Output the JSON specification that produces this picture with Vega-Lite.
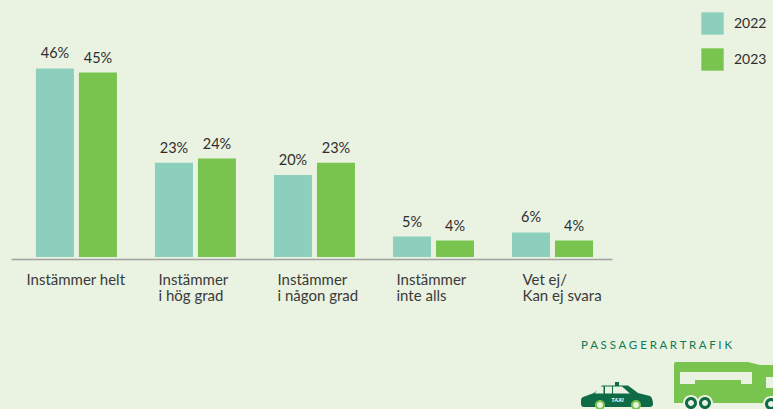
{"$schema":"https://vega.github.io/schema/vega-lite/v6.json","autosize":"none","padding":{"left":11,"top":52,"right":161,"bottom":152},"width":601,"height":205,"background":"#EAF2E1","config":{"view":{"stroke":null},"font":"Lato"},"layer":[{"data":{"values":[{"svar":"Instämmer helt","ar":"2022","andel":0.46},{"svar":"Instämmer helt","ar":"2023","andel":0.45},{"svar":"Instämmer|i hög grad","ar":"2022","andel":0.23},{"svar":"Instämmer|i hög grad","ar":"2023","andel":0.24},{"svar":"Instämmer|i någon grad","ar":"2022","andel":0.2},{"svar":"Instämmer|i någon grad","ar":"2023","andel":0.23},{"svar":"Instämmer|inte alls","ar":"2022","andel":0.05},{"svar":"Instämmer|inte alls","ar":"2023","andel":0.04},{"svar":"Vet ej/|Kan ej svara","ar":"2022","andel":0.06},{"svar":"Vet ej/|Kan ej svara","ar":"2023","andel":0.04}]},"encoding":{"x":{"field":"svar","type":"nominal","sort":null,"title":null,"scale":{"paddingInner":0,"paddingOuter":0.025,"align":1},"axis":{"offset":2,"ticks":false,"domainColor":"#A0A3A0","domainWidth":1.5,"labelAngle":0,"labelAlign":"left","labelBaseline":"top","labelFont":"Lato","labelFontSize":15,"labelColor":"#3A3A3A","labelPadding":13,"labelLineHeight":16,"labelOverlap":false,"labelOffset":{"expr":"datum.value=='Instämmer helt'?-50:datum.value=='Vet ej/|Kan ej svara'?-30:-37"},"labelExpr":"split(datum.label,'|')"}},"xOffset":{"field":"ar","type":"nominal","scale":{"paddingInner":0.116,"paddingOuter":0.442}},"y":{"field":"andel","type":"quantitative","scale":{"domain":[0,0.5]},"axis":null}},"layer":[{"mark":{"type":"bar"},"encoding":{"color":{"field":"ar","type":"nominal","scale":{"domain":["2022","2023"],"range":["#8CCFBD","#79C44F"]},"legend":{"orient":"none","legendX":690,"legendY":-40,"title":null,"symbolType":"square","symbolSize":500,"symbolStrokeWidth":0,"rowPadding":13,"labelFont":"Lato","labelFontSize":14,"labelColor":"#2E2E2E","labelOffset":10}}}},{"mark":{"type":"text","baseline":"bottom","dy":-7,"font":"Lato","fontSize":14.5,"color":"#2E2E2E"},"encoding":{"text":{"field":"andel","type":"quantitative","format":".0%"}}}]},{"data":{"values":[{"ikon":"buss"}]},"mark":{"type":"point","filled":true,"opacity":1,"size":4,"strokeWidth":0,"color":"#79C44F","shape":"M364.5,207.5 h72 l12,3 h13 v38 h-99 v-39 q0,-2 2,-2 z"},"encoding":{}},{"data":{"values":[{"ikon":"buss fönster"}]},"mark":{"type":"point","filled":true,"opacity":1,"size":4,"strokeWidth":0,"color":"#EAF2E1","shape":"M368.5,217.5 h72 v12 h-11 v-4 h-46 v4 h-15 z M454.5,222.5 h7 v11 h-7 z M371.5,248.5 a8,8 0 1 0 16,0 a8,8 0 1 0 -16,0 z M385.5,248.5 a8,8 0 1 0 16,0 a8,8 0 1 0 -16,0 z M451.5,249.5 a8,8 0 1 0 16,0 a8,8 0 1 0 -16,0 z"},"encoding":{}},{"data":{"values":[{"ikon":"taxi och hjul"}]},"mark":{"type":"point","filled":true,"opacity":1,"size":4,"strokeWidth":0,"color":"#0E6B45","shape":"M271.5,242.5 l11,-4 l8,-7.5 h13 v-3.5 h4 v3.5 h9 l10,7.5 l12,3 q3,2 3,9 q-1,2 -3,2 h-66 q-3,0 -3,-3 v-4 q0,-2 2,-3 z M373.5,248.5 a6,6 0 1 0 12,0 a6,6 0 1 0 -12,0 z M387.5,248.5 a6,6 0 1 0 12,0 a6,6 0 1 0 -12,0 z M453.5,249.5 a6,6 0 1 0 12,0 a6,6 0 1 0 -12,0 z"},"encoding":{}},{"data":{"values":[{"ikon":"taxi hjul"}]},"mark":{"type":"point","filled":true,"opacity":1,"size":4,"strokeWidth":0,"color":"#79C44F","shape":"M283.5,250.5 a5,5 0 1 0 10,0 a5,5 0 1 0 -10,0 z M319.5,250.5 a5,5 0 1 0 10,0 a5,5 0 1 0 -10,0 z"},"encoding":{}},{"data":{"values":[{"ikon":"detaljer"}]},"mark":{"type":"point","filled":true,"opacity":1,"size":4,"strokeWidth":0,"color":"#EAF2E1","shape":"M287,232 h5 v7 h-8.5 z M293.5,232 h7 v7 h-7 z M301.5,232 h9 l8,7 h-17 z M285.5,250.5 a3,3 0 1 0 6,0 a3,3 0 1 0 -6,0 z M321.5,250.5 a3,3 0 1 0 6,0 a3,3 0 1 0 -6,0 z M376.5,248.5 a3,3 0 1 0 6,0 a3,3 0 1 0 -6,0 z M390.5,248.5 a3,3 0 1 0 6,0 a3,3 0 1 0 -6,0 z M456.5,249.5 a3,3 0 1 0 6,0 a3,3 0 1 0 -6,0 z"},"encoding":{}},{"data":{"values":[{"t":"TAXI"}]},"mark":{"type":"text","font":"Lato","fontSize":6,"fontWeight":"bold","fontStyle":"italic","color":"#FFFFFF","dx":306,"dy":245},"encoding":{"text":{"field":"t"}}},{"data":{"values":[{"t":"P A S S A G E R A R T R A F I K"}]},"mark":{"type":"text","font":"Lato","fontSize":11.5,"align":"left","color":"#0E7A52","dx":269.5,"dy":191},"encoding":{"text":{"field":"t"}}}]}
